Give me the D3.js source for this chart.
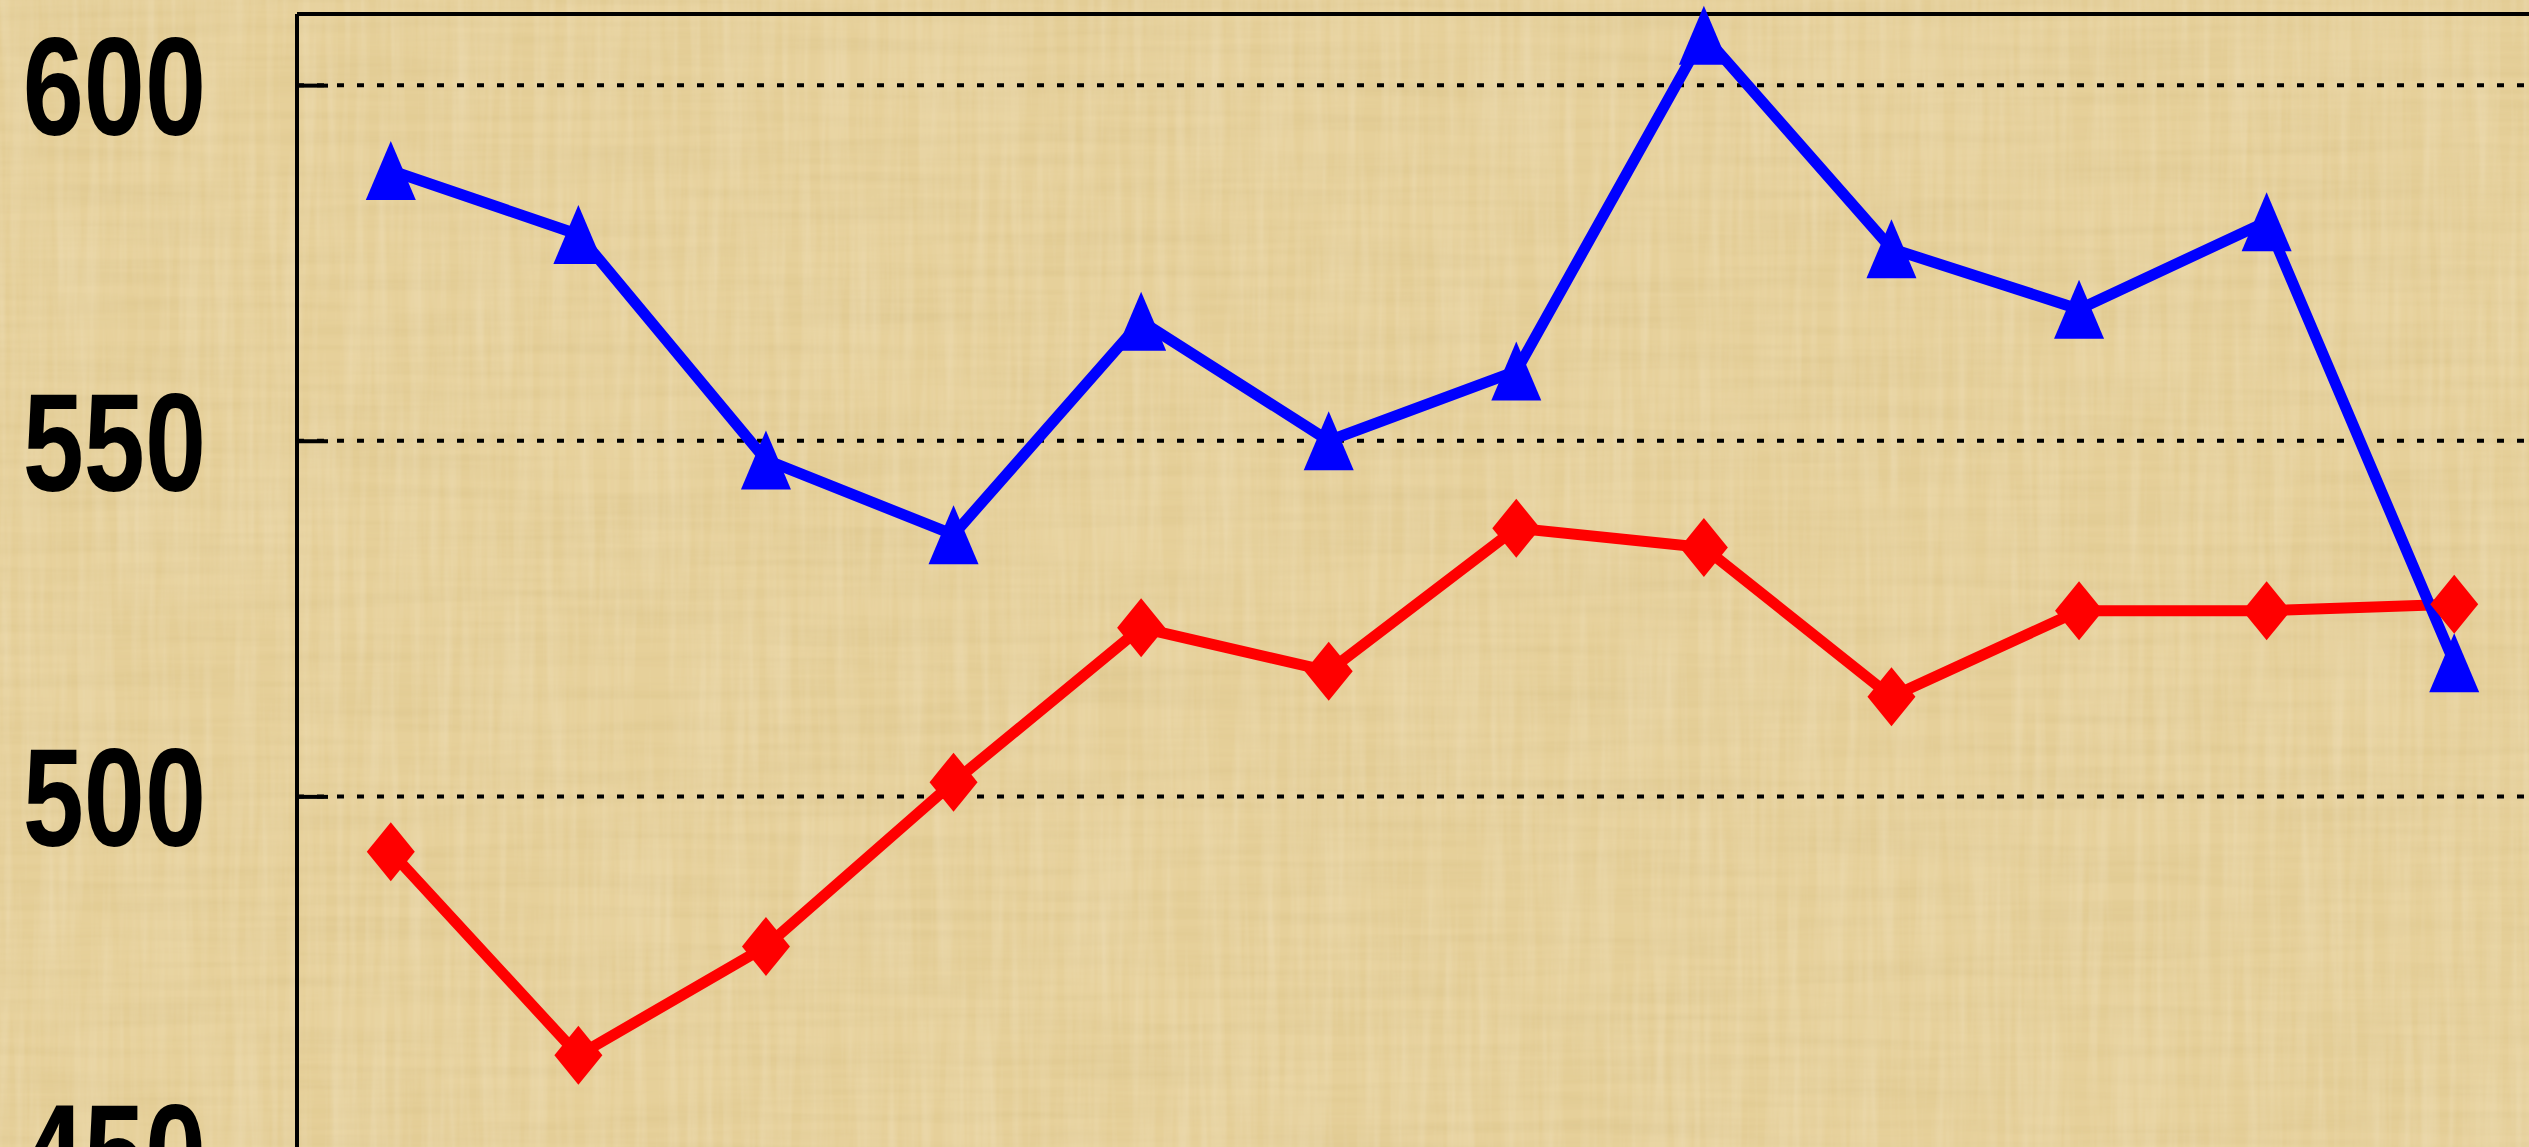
<!DOCTYPE html>
<html>
<head>
<meta charset="utf-8">
<script src="https://cdn.jsdelivr.net/npm/d3@7"></script>
<style>
  html, body { margin: 0; padding: 0; background: #e6d09a; overflow: hidden; }
</style>
</head>
<body>
<div id="chart"></div>
<script>
// Chart data
const categories = ["1", "2", "3", "4", "5", "6", "7", "8", "9", "10", "11", "12"];
const blueValues = [588, 579, 547.3, 536.8, 566.8, 550, 559.8, 607, 577, 568.5, 580.8, 518.8];
const redValues = [492.2, 463.6, 478.9, 502, 523.7, 517.6, 537.7, 535, 514, 526.1, 526.1, 527];
const yTicks = [450, 500, 550, 600];

// Dimensions
const W = 2529, H = 1147;
const margin = { top: 14, left: 297 };
const plotW = 2251;      // plot runs past the right edge of the picture
const plotBottom = 1152; // value 450 sits just below the bottom edge

const svg = d3.select("#chart").append("svg")
  .attr("width", W)
  .attr("height", H);

// Papyrus-like background texture
const defs = svg.append("defs");
const f = defs.append("filter").attr("id", "paper")
  .attr("x", 0).attr("y", 0).attr("width", "100%").attr("height", "100%");
f.append("feTurbulence").attr("type", "fractalNoise")
  .attr("baseFrequency", "0.004 0.09").attr("numOctaves", 3).attr("seed", 3).attr("result", "n1");
f.append("feColorMatrix").attr("in", "n1").attr("type", "matrix")
  .attr("values", "0 0 0 0 0.55  0 0 0 0 0.42  0 0 0 0 0.15  0 0 0 0.35 -0.12")
  .attr("result", "c1");
f.append("feTurbulence").attr("type", "fractalNoise")
  .attr("baseFrequency", "0.09 0.005").attr("numOctaves", 3).attr("seed", 7).attr("result", "n2");
f.append("feColorMatrix").attr("in", "n2").attr("type", "matrix")
  .attr("values", "0 0 0 0 1  0 0 0 0 0.95  0 0 0 0 0.8  0 0 0 0.3 -0.1")
  .attr("result", "c2");
f.append("feMerge").selectAll("feMergeNode")
  .data(["SourceGraphic", "c1", "c2"])
  .enter().append("feMergeNode").attr("in", d => d);

svg.append("rect")
  .attr("width", W).attr("height", H)
  .attr("fill", "#e6d09a")
  .attr("filter", "url(#paper)");

// Scales
const x = d3.scalePoint()
  .domain(categories)
  .range([margin.left, margin.left + plotW])
  .padding(0.5);

const y = d3.scaleLinear()
  .domain([450, 610])
  .range([plotBottom, margin.top]);

// Dotted gridlines
svg.append("g")
  .selectAll("line")
  .data(yTicks)
  .enter().append("line")
  .attr("x1", margin.left)
  .attr("x2", margin.left + plotW)
  .attr("y1", d => y(d))
  .attr("y2", d => y(d))
  .attr("stroke", "#000")
  .attr("stroke-width", 4)
  .attr("stroke-dasharray", "7,13");

// Y axis with inward ticks
const yAxis = svg.append("g")
  .attr("transform", `translate(${margin.left},0)`)
  .call(d3.axisRight(y).tickValues(yTicks).tickSize(31).tickFormat(""));
yAxis.select(".domain").remove();
yAxis.selectAll(".tick line").attr("stroke", "#000").attr("stroke-width", 4);

// Tick labels (stretched bold digits)
svg.append("g")
  .selectAll("text")
  .data(yTicks)
  .enter().append("text")
  .attr("transform", d => `translate(206,${y(d)}) scale(0.79,1)`)
  .attr("text-anchor", "end")
  .attr("dy", "0.36em")
  .attr("font-family", "'Liberation Sans', Arial, sans-serif")
  .attr("font-weight", "bold")
  .attr("font-size", 139)
  .attr("fill", "#000")
  .text(d => d);

// Plot frame: left axis line and top border
svg.append("line")
  .attr("x1", margin.left).attr("x2", margin.left)
  .attr("y1", margin.top).attr("y2", H)
  .attr("stroke", "#000").attr("stroke-width", 4);
svg.append("line")
  .attr("x1", margin.left).attr("x2", W)
  .attr("y1", margin.top).attr("y2", margin.top)
  .attr("stroke", "#000").attr("stroke-width", 4);

// Series lines
const line = d3.line()
  .x((d, i) => x(categories[i]))
  .y(d => y(d));

svg.append("path")
  .datum(redValues)
  .attr("fill", "none")
  .attr("stroke", "#ff0000")
  .attr("stroke-width", 11)
  .attr("stroke-linejoin", "round")
  .attr("d", line);

svg.append("path")
  .datum(blueValues)
  .attr("fill", "none")
  .attr("stroke", "#0000ff")
  .attr("stroke-width", 11)
  .attr("stroke-linejoin", "round")
  .attr("d", line);

// Markers
const diamond = (w, h) => `M0,${-h / 2}L${w / 2},0L0,${h / 2}L${-w / 2},0Z`;
const triangle = (w, h) => `M0,${-h / 2}L${w / 2},${h / 2}L${-w / 2},${h / 2}Z`;

svg.append("g")
  .selectAll("path")
  .data(redValues)
  .enter().append("path")
  .attr("transform", (d, i) => `translate(${x(categories[i])},${y(d)})`)
  .attr("d", diamond(48, 59))
  .attr("fill", "#ff0000");

svg.append("g")
  .selectAll("path")
  .data(blueValues)
  .enter().append("path")
  .attr("transform", (d, i) => `translate(${x(categories[i])},${y(d)})`)
  .attr("d", triangle(50, 59))
  .attr("fill", "#0000ff");
</script>
</body>
</html>
